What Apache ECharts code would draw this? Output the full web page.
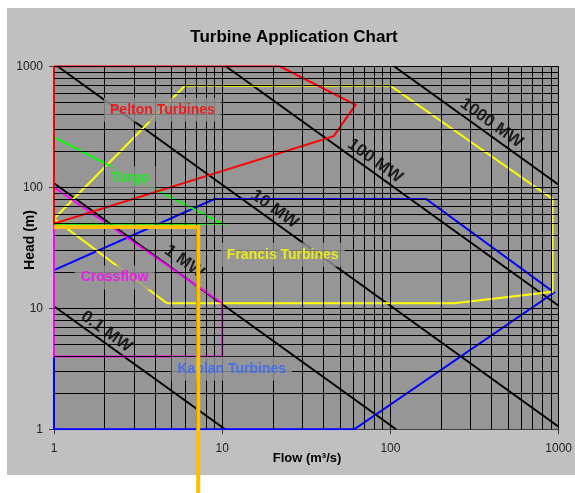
<!DOCTYPE html>
<html>
<head>
<meta charset="utf-8">
<script src="https://cdn.jsdelivr.net/npm/echarts@6/dist/echarts.min.js"></script>
<style>
  html, body { margin: 0; padding: 0; background: #ffffff; }
  #wrap { position: relative; width: 575px; height: 493px; overflow: hidden; }
  #panel { position: absolute; left: 7px; top: 8px; width: 568px; height: 467px; background: #c0c0c0; }
  #chart { position: absolute; left: 0; top: 0; width: 575px; height: 493px; }
</style>
</head>
<body>
<div id="wrap"><div id="panel"></div><div id="chart"></div></div>
<script>
// Axis decades and the 2..9 subdivisions used for the log grid
const axisTicks = [1, 10, 100, 1000];
const gridDecades = [1, 10, 100];
const gridSteps = [2, 3, 4, 5, 6, 7, 8, 9];

// Turbine application envelopes: [flow m3/s, head m]
const peltonPts  = [[1, 1000], [1, 50], [46, 265], [62, 480], [22, 1000], [1, 1000]];
const turgoPts   = [[1, 260], [10, 50], [1, 50], [1, 260]];
const crossPts   = [[1, 100], [10, 11], [10, 4], [1, 4], [1, 100]];
const francisPts = [[1, 55], [6, 690], [100, 690], [920, 80], [920, 13.7], [240, 11], [4.7, 11], [1, 55]];
const kaplanPts  = [[1, 1], [1, 20.7], [9, 80], [163, 80], [940, 13.5], [61, 1], [1, 1]];

// Constant-power lines (end points on the chart border) and where their labels sit
const powerNames = ['0.1 MW', '1 MW', '10 MW', '100 MW', '1000 MW'];
const powerEnds = [
  [[1, 10.4], [10.4, 1]],
  [[1, 108], [108, 1]],
  [[1.05, 1000], [1000, 1.05]],
  [[10.5, 1000], [1000, 10.5]],
  [[105, 1000], [1000, 105]]
];
const powerLabelAt = [[2.05, 6.4], [5.95, 24.3], [20.5, 66], [81, 165], [399, 340]];

// Region names and label anchors
const regionNames = ['Pelton Turbines', 'Turgo', 'Crossflow', 'Francis Turbines', 'Kaplan Turbines'];
const regionLabelAt = [[4.41, 438], [2.84, 119], [2.29, 18], [22.9, 27.7], [11.4, 3.17]];
const regionTextColors = ['#ff0000', '#00ff00', '#ff00ff', '#ffff00', '#3366ff'];

// Selected operating point [flow, head] marked with the orange guide
const designPoint = [7.2, 47];

const FONT = '"Liberation Sans", Arial, Helvetica, sans-serif';

// Gridline values: every 1..9 multiple of each decade
const gridValues = [];
gridDecades.forEach(d => {
  if (d > 1) gridValues.push(d);
  gridSteps.forEach(s => gridValues.push(d * s));
});
gridValues.push(1000);

const outlineSeries = (data, color) => ({
  type: 'line', data, symbol: 'none', z: 4, silent: true,
  lineStyle: { color, width: 2, join: 'miter' }
});

const series = [];

// log grid as mark lines
series.push({
  type: 'line', data: [], z: 1, silent: true,
  markLine: {
    silent: true, symbol: ['none', 'none'], animation: false,
    label: { show: false },
    lineStyle: { color: '#000000', width: 1, type: 'solid' },
    data: gridValues.map(v => ({ xAxis: v })).concat(gridValues.map(v => ({ yAxis: v })))
  }
});

// constant-power lines
powerEnds.forEach(pts => {
  series.push({
    type: 'line', data: pts, symbol: 'none', z: 2, silent: true,
    lineStyle: { color: '#000000', width: 2 }
  });
});

// power labels, rotated along the lines
series.push({
  type: 'scatter', z: 3, silent: true, symbolSize: 1,
  itemStyle: { color: 'rgba(0,0,0,0)' },
  data: powerNames.map((n, i) => ({ name: n, value: powerLabelAt[i] })),
  label: {
    show: true, position: 'inside', formatter: '{b}', rotate: -35.6,
    color: '#000000', fontFamily: FONT, fontSize: 17, fontWeight: 'bold'
  }
});

series.push(outlineSeries(kaplanPts, '#0000ff'));
series.push(outlineSeries(francisPts, '#ffff00'));
series.push(outlineSeries(crossPts, '#ff00ff'));
series.push(outlineSeries(turgoPts, '#00ff00'));
series.push(outlineSeries(peltonPts, '#ff0000'));

// region labels on plot-coloured boxes
series.push({
  type: 'scatter', z: 6, silent: true, symbolSize: 1,
  itemStyle: { color: 'rgba(0,0,0,0)' },
  data: regionNames.map((n, i) => ({ name: n, value: regionLabelAt[i], label: { color: regionTextColors[i] } })),
  label: {
    show: true, position: 'inside', formatter: '{b}',
    fontFamily: FONT, fontSize: 14, fontWeight: 'bold',
    backgroundColor: '#969696', padding: [5, 6]
  }
});

// orange guide from the head axis to the chosen flow and down past the flow axis
series.push({
  type: 'line', z: 10, silent: true, symbol: 'none', clip: false,
  data: [[1, designPoint[1]], [designPoint[0], designPoint[1]], [designPoint[0], 0.25]],
  lineStyle: { color: '#ffc000', width: 4, join: 'miter' }
});

const axisCommon = {
  type: 'log', logBase: 10, min: 1, max: 1000,
  axisLine: { show: true, lineStyle: { color: '#404040', width: 1 } },
  axisTick: { show: true, length: 5, lineStyle: { color: '#404040' } },
  axisLabel: { color: '#222222', fontFamily: FONT, fontSize: 12,
               formatter: v => (axisTicks.indexOf(v) >= 0 ? String(v) : '') },
  splitLine: { show: false },
  minorTick: { show: false }
};

const option = {
  animation: false,
  backgroundColor: 'transparent',
  grid: { left: 54, right: 13.5, top: 66.3, bottom: 63.7, show: true, backgroundColor: '#969696', borderWidth: 0 },
  xAxis: Object.assign({}, axisCommon, { axisLabel: Object.assign({}, axisCommon.axisLabel, { margin: 13 }) }),
  yAxis: Object.assign({}, axisCommon, { axisLabel: Object.assign({}, axisCommon.axisLabel, { margin: 11 }) }),
  graphic: [
    { type: 'text', x: 294, y: 37, z: 20, silent: true,
      style: { text: 'Turbine Application Chart', fill: '#000000', font: 'bold 17px ' + FONT,
               textAlign: 'center', textVerticalAlign: 'middle' } },
    { type: 'text', x: 307, y: 458, z: 20, silent: true,
      style: { text: 'Flow (m³/s)', fill: '#000000', font: 'bold 13px ' + FONT,
               textAlign: 'center', textVerticalAlign: 'middle' } },
    { type: 'text', x: 30, y: 240, rotation: Math.PI / 2, z: 20, silent: true,
      style: { text: 'Head (m)', fill: '#000000', font: 'bold 14px ' + FONT,
               textAlign: 'center', textVerticalAlign: 'middle' } }
  ],
  series
};

const chart = echarts.init(document.getElementById('chart'), null, { renderer: 'canvas' });
chart.setOption(option);
</script>
</body>
</html>
